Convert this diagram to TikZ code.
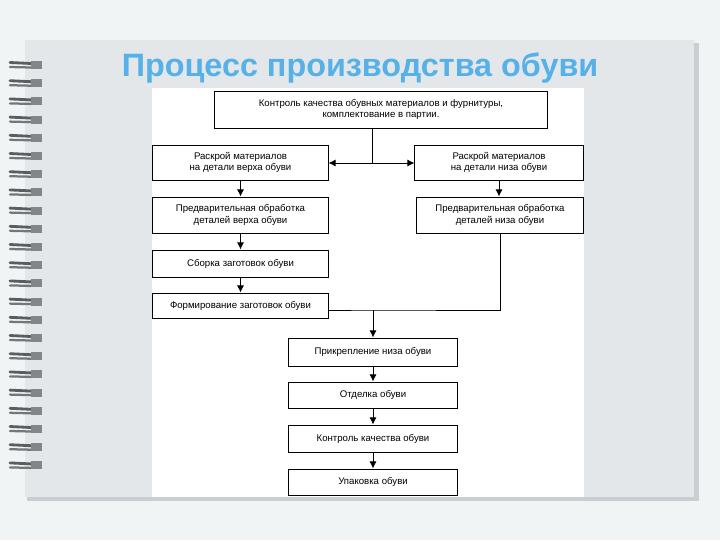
\documentclass[tikz,border=0pt]{standalone}
\usepackage{fontspec}
\setmainfont{Liberation Sans}
\usetikzlibrary{arrows.meta}
\definecolor{bggray}{HTML}{F1F4F4}
\definecolor{pagegray}{HTML}{E3E7EA}
\definecolor{edgegray}{HTML}{C9CED2}
\definecolor{ringgray}{HTML}{5A5E62}
\definecolor{titleblue}{HTML}{55B1E8}
\tikzset{
  stepbox/.style={draw=black, line width=0.7pt, fill=white, inner sep=1pt,
    align=center, font=\fontsize{6.85}{8}\selectfont},
  flow/.style={-{Latex[length=5pt,width=5pt]}, line width=0.7pt},
  joint/.style={line width=0.7pt},
}
\begin{document}
\begin{tikzpicture}[x=0.025cm,y=-0.025cm]
\useasboundingbox (0,0) rectangle (720,540);
% backdrop and notebook page
\fill[bggray] (0,0) rectangle (720,540);
\fill[edgegray] (27,43) rectangle (699,501);
\fill[pagegray] (25,40) rectangle (694,497);
\draw[edgegray, line width=0.5pt] (696,44) -- (696,500);
% spiral binding
\foreach \i in {0,...,22} {
  \pgfmathsetmacro\ry{65+18.2*\i}
  \draw[ringgray, line width=2pt, line cap=round] (10,\ry-2.5) -- (31,\ry-1.5);
  \draw[ringgray!85, line width=1.6pt, line cap=round] (10,\ry+2) -- (31,\ry+2.5);
  \fill[ringgray!75] (31,\ry-4) rectangle (42,\ry+4);
}
% title
\node[text=titleblue, font=\bfseries\fontsize{23}{27}\selectfont] (title) at (360,68)
  {Процесс производства обуви};
% scanned sheet
\fill[white] (152,88) rectangle (584,497);
% blocks
\node[stepbox, minimum width=8.3cm, minimum height=0.925cm] (qc) at (381,109.5)
  {Контроль качества обувных материалов и фурнитуры,\\комплектование в партии.};
\node[stepbox, minimum width=4.375cm, minimum height=0.875cm] (cutup) at (240.5,162.5)
  {Раскрой материалов\\на детали верха обуви};
\node[stepbox, minimum width=4.2cm, minimum height=0.875cm] (cutdown) at (499,162.5)
  {Раскрой материалов\\на детали низа обуви};
\node[stepbox, minimum width=4.375cm, minimum height=0.9cm] (prepup) at (240.5,215)
  {Предварительная обработка\\деталей верха обуви};
\node[stepbox, minimum width=4.15cm, minimum height=0.9cm] (prepdown) at (500,215)
  {Предварительная обработка\\деталей низа обуви};
\node[stepbox, minimum width=4.375cm, minimum height=0.675cm] (assembly) at (240.5,263.5)
  {Сборка заготовок обуви};
\node[stepbox, minimum width=4.375cm, minimum height=0.625cm] (forming) at (240.5,305.5)
  {Формирование заготовок обуви};
\node[stepbox, minimum width=4.2cm, minimum height=0.7cm] (attach) at (373,352)
  {Прикрепление низа обуви};
\node[stepbox, minimum width=4.2cm, minimum height=0.65cm] (finish) at (373,395)
  {Отделка обуви};
\node[stepbox, minimum width=4.2cm, minimum height=0.675cm] (control) at (373,438.5)
  {Контроль качества обуви};
\node[stepbox, minimum width=4.2cm, minimum height=0.65cm] (pack) at (373,482)
  {Упаковка обуви};
% connectors
\coordinate (split) at (372,163);
\coordinate (merge) at (373,310);
\draw[joint] (split |- qc.south) -- (split);
\draw[flow] (split) -- (cutup.east |- split);
\draw[flow] (split) -- (cutdown.west |- split);
\draw[flow] (cutup) -- (prepup);
\draw[flow] (cutdown.south) -- (cutdown.south |- prepdown.north);
\draw[flow] (prepup) -- (assembly);
\draw[flow] (assembly) -- (forming);
\draw[joint] (prepdown.south) |- (merge) -- (forming.east |- merge);
\draw[flow] (merge) -- (attach);
\draw[flow] (attach) -- (finish);
\draw[flow] (finish) -- (control);
\draw[flow] (control) -- (pack);
\end{tikzpicture}
\end{document}
